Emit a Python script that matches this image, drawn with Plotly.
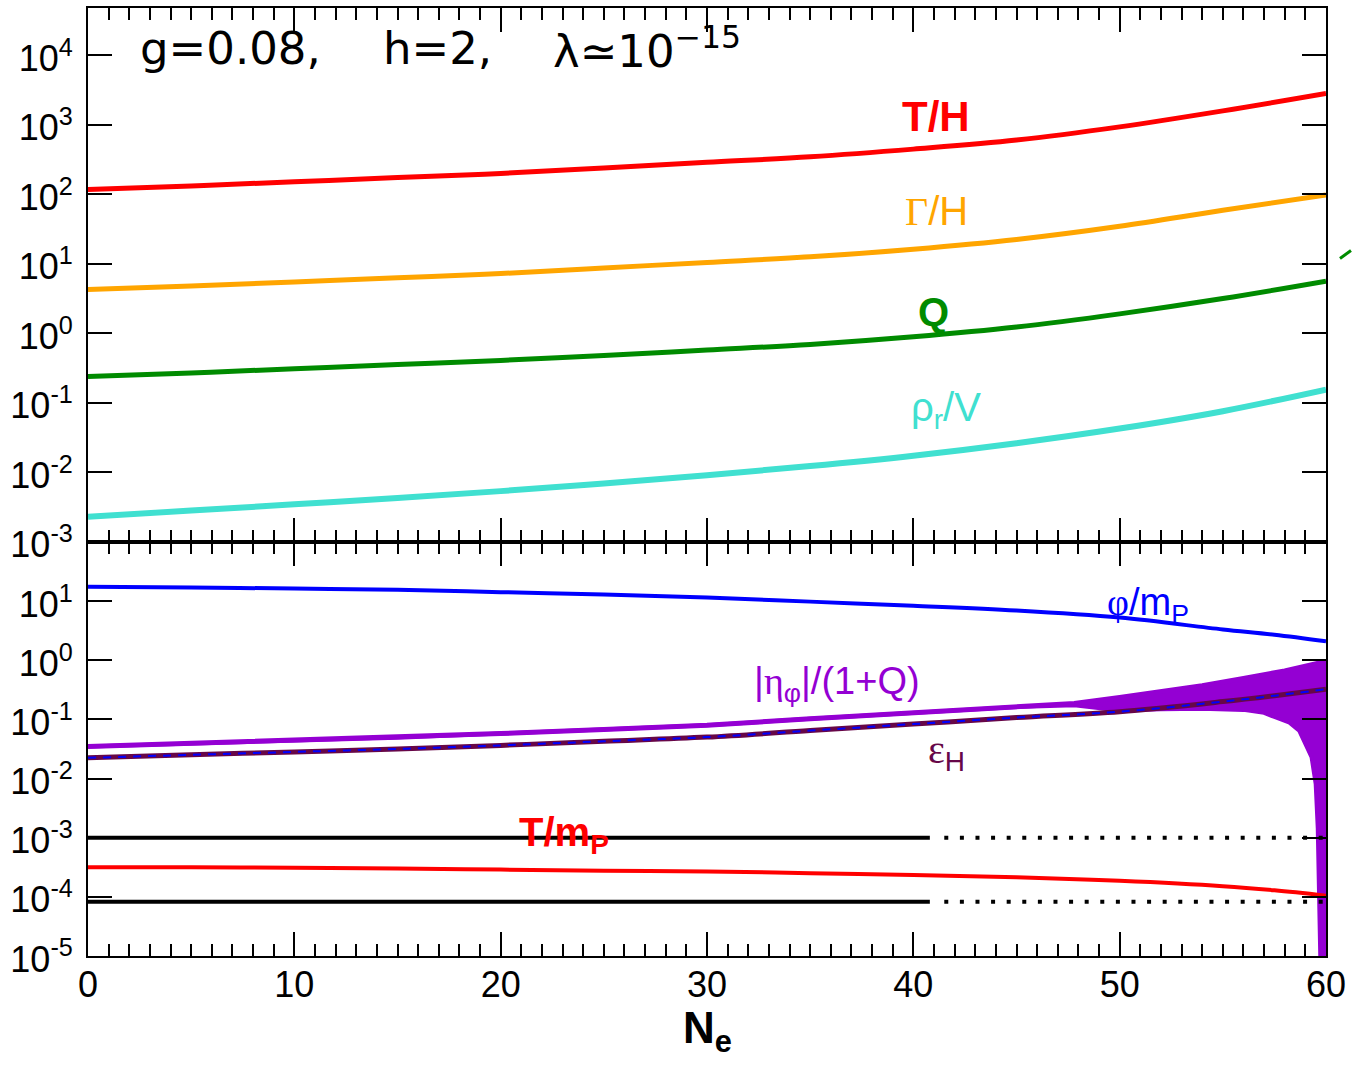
import plotly.graph_objects as go

# ---------------- data (log10 of values) ----------------
N_top = [0, 5, 10, 15, 20, 25, 30, 35, 40, 45, 50, 55, 60]
log_T_over_H = [2.07, 2.12, 2.18, 2.24, 2.30, 2.38, 2.46, 2.54, 2.65, 2.78, 2.97, 3.20, 3.45]
log_Gamma_over_H = [0.63, 0.68, 0.74, 0.80, 0.86, 0.94, 1.02, 1.10, 1.21, 1.35, 1.54, 1.77, 1.99]
log_Q = [-0.62, -0.57, -0.51, -0.45, -0.39, -0.32, -0.24, -0.16, -0.05, 0.09, 0.28, 0.50, 0.75]
log_rho_over_V = [-2.64, -2.55, -2.46, -2.37, -2.27, -2.16, -2.04, -1.91, -1.76, -1.58, -1.37, -1.12, -0.81]

N_bot = [0, 5, 10, 15, 20, 25, 30, 35, 40, 45, 50, 55, 57.5, 60]
log_phi_over_mP = [1.24, 1.23, 1.21, 1.19, 1.15, 1.11, 1.06, 0.99, 0.92, 0.84, 0.72, 0.52, 0.43, 0.32]
log_T_over_mP = [-3.50, -3.50, -3.51, -3.52, -3.54, -3.56, -3.57, -3.60, -3.63, -3.67, -3.73, -3.82, -3.89, -3.98]
log_eps_H = [-1.65, -1.60, -1.55, -1.50, -1.44, -1.37, -1.30, -1.19, -1.08, -0.97, -0.87, -0.70, -0.60, -0.49]

# |eta_phi|/(1+Q): upper and lower envelope of the (oscillating) curve
N_eta_upper = [0, 5, 10, 15, 20, 25, 30, 35, 40, 45, 47.8, 50, 52, 54, 56, 58, 60]
log_eta_upper = [-1.46, -1.41, -1.36, -1.31, -1.24, -1.17, -1.10, -0.99, -0.89, -0.79, -0.73,
                 -0.63, -0.54, -0.43, -0.31, -0.18, -0.02]
N_eta_lower = [0, 5, 10, 15, 20, 25, 30, 35, 40, 45, 47.8, 50, 52, 54, 56, 57, 57.5, 58.2,
               58.7, 59.0, 59.3, 59.5, 59.6, 59.75, 60]
log_eta_lower = [-1.46, -1.41, -1.36, -1.31, -1.24, -1.17, -1.10, -0.99, -0.89, -0.79, -0.76,
                 -0.85, -0.83, -0.82, -0.84, -0.89, -0.96, -1.05, -1.19, -1.41, -1.64, -2.09,
                 -2.84, -5.5, -5.5]

# horizontal reference levels (solid part, dotted part)
N_level_solid = [0, 40.8]
N_level_dotted = [41.5, 60]
log_level_upper = -3.0
log_level_lower = -4.085

x_ticks = [0, 10, 20, 30, 40, 50, 60]
top_tick_exp = [-3, -2, -1, 0, 1, 2, 3, 4]
bot_tick_exp = [-5, -4, -3, -2, -1, 0, 1]


def vals(logs):
    return [10 ** v for v in logs]


RED = "#ff0000"
ORANGE = "#ffa500"
GREEN = "#008b00"
CYAN = "#40e0d0"
BLUE = "#0000ff"
VIOLET = "#9400d3"
MAROON = "#670748"

fig = go.Figure()

# ---------------- top panel ----------------
for logs, col, w in [(log_T_over_H, RED, 5), (log_Gamma_over_H, ORANGE, 5),
                     (log_Q, GREEN, 5), (log_rho_over_V, CYAN, 6)]:
    fig.add_trace(go.Scatter(x=N_top, y=vals(logs), mode="lines", xaxis="x2", yaxis="y2",
                             line=dict(color=col, width=w, shape="spline"), showlegend=False))

# ---------------- bottom panel ----------------
fig.add_trace(go.Scatter(x=N_bot, y=vals(log_phi_over_mP), mode="lines",
                         line=dict(color=BLUE, width=4, shape="spline"), showlegend=False))
fig.add_trace(go.Scatter(x=N_eta_lower, y=vals(log_eta_lower), mode="lines",
                         line=dict(color=VIOLET, width=4), showlegend=False))
fig.add_trace(go.Scatter(x=N_eta_upper, y=vals(log_eta_upper), mode="lines",
                         line=dict(color=VIOLET, width=5), fill="tonexty",
                         fillcolor=VIOLET, showlegend=False))
fig.add_trace(go.Scatter(x=N_bot, y=vals(log_eps_H), mode="lines",
                         line=dict(color=MAROON, width=5, shape="spline"), showlegend=False))
fig.add_trace(go.Scatter(x=N_bot, y=vals(log_eps_H), mode="lines",
                         line=dict(color=BLUE, width=2, dash="8px,7px", shape="spline"),
                         showlegend=False))
for lv in [log_level_upper, log_level_lower]:
    fig.add_trace(go.Scatter(x=N_level_solid, y=vals([lv, lv]), mode="lines",
                             line=dict(color="black", width=4), showlegend=False))
    fig.add_trace(go.Scatter(x=N_level_dotted, y=vals([lv, lv]), mode="lines",
                             line=dict(color="black", width=4, dash="4px,11.6px"),
                             showlegend=False))
fig.add_trace(go.Scatter(x=N_bot, y=vals(log_T_over_mP), mode="lines",
                         line=dict(color=RED, width=4, shape="spline"), showlegend=False))

# ---------------- axes ----------------
DOM = 415 / 950
tickfont = dict(family="Liberation Sans, Arial, sans-serif", size=36, color="black")
common_x = dict(range=[0, 60], ticks="inside", ticklen=24, tickwidth=2, tickcolor="black",
                showline=True, linewidth=2, linecolor="black", mirror="ticks",
                showgrid=False, zeroline=False, tickvals=x_ticks,
                minor=dict(dtick=1, ticks="inside", ticklen=12, tickwidth=2,
                           tickcolor="black", showgrid=False))
common_y = dict(type="log", ticks="inside", ticklen=24, tickwidth=2, tickcolor="black",
                showline=True, linewidth=2, linecolor="black", mirror="ticks",
                showgrid=False, zeroline=False, tickfont=tickfont, ticklabelstandoff=6,
                ticklabelshift=3)

fig.update_layout(
    width=1352, height=1068,
    margin=dict(l=88, r=25, t=6, b=112),
    paper_bgcolor="white", plot_bgcolor="white",
    xaxis=dict(**common_x, domain=[0, 1], anchor="y", tickfont=tickfont,
               ticklabelstandoff=-4),
    xaxis2=dict(**common_x, domain=[0, 1], anchor="y2", matches="x", showticklabels=False),
    yaxis=dict(**common_y, domain=[0, DOM], anchor="x", range=[-5, 2],
               tickvals=[10 ** e for e in bot_tick_exp],
               ticktext=["10<sup>%d</sup>" % e for e in bot_tick_exp]),
    yaxis2=dict(**common_y, domain=[DOM, 1], anchor="x2", range=[-3, 4.68],
                tickvals=[10 ** e for e in top_tick_exp],
                ticktext=["10<sup>%d</sup>" % e for e in top_tick_exp]),
)

# ---------------- labels ----------------
SANS = "Liberation Sans, Arial, sans-serif"


def lab(text, x, y, col, size, xref="x", yref="y", anchor="left"):
    fig.add_annotation(text=text, x=x, y=y, xref=xref, yref=yref, showarrow=False,
                       xanchor=anchor, yanchor="middle",
                       font=dict(family=SANS, size=size, color=col))


lab("<b>T/H</b>", 41.1, 3.12, RED, 42, "x2", "y2", "center")
lab('<span style="font-family:Liberation Serif">Γ</span>/H', 41.1, 1.75, ORANGE, 40,
    "x2", "y2", "center")
lab("<b>Q</b>", 41.0, 0.30, GREEN, 40, "x2", "y2", "center")
lab("ρ<sub>r</sub>/V", 39.8, -1.10, CYAN, 40, "x2", "y2", "left")

lab('<span style="font-family:Liberation Serif">φ</span>/m<sub>P</sub>', 49.3, 0.93,
    BLUE, 38)
lab('|<span style="font-family:Liberation Serif">η</span><sub>φ</sub>|/(1+Q)', 32.2, -0.40,
    VIOLET, 38)
lab('<span style="font-family:Liberation Serif">ε</span><sub>H</sub>', 40.6, -1.55,
    MAROON, 40)
lab("<b>T/m<sub>P</sub></b>", 20.8, -2.95, RED, 40)

# parameter text
TFONT = dict(family="DejaVu Sans", size=45, color="black")
for txt, px in [("g=0.08,", 138), ("h=2,", 381), ("λ≃10<sup>−15</sup>", 551)]:
    fig.add_annotation(text=txt, x=(px - 88) / 1239, y=(956 - 47) / 950, xref="paper",
                       yref="paper", xanchor="left", yanchor="middle", showarrow=False,
                       font=TFONT)

# x-axis title
fig.add_annotation(text="<b>N<sub>e</sub></b>", x=0.5, y=(956 - 1031) / 950, xref="paper",
                   yref="paper", xanchor="center", yanchor="middle", showarrow=False,
                   font=dict(family=SANS, size=44, color="black"))

# stray green stroke at the right edge (outside the frame)
fig.add_shape(type="line", xref="paper", yref="paper",
              x0=(1341 - 88) / 1239, y0=(956 - 257) / 950,
              x1=(1352 - 88) / 1239, y1=(956 - 249) / 950,
              line=dict(color=GREEN, width=3))

fig.write_html("out.html", config={"displayModeBar": False},
               post_script="document.body.style.margin='0';")
